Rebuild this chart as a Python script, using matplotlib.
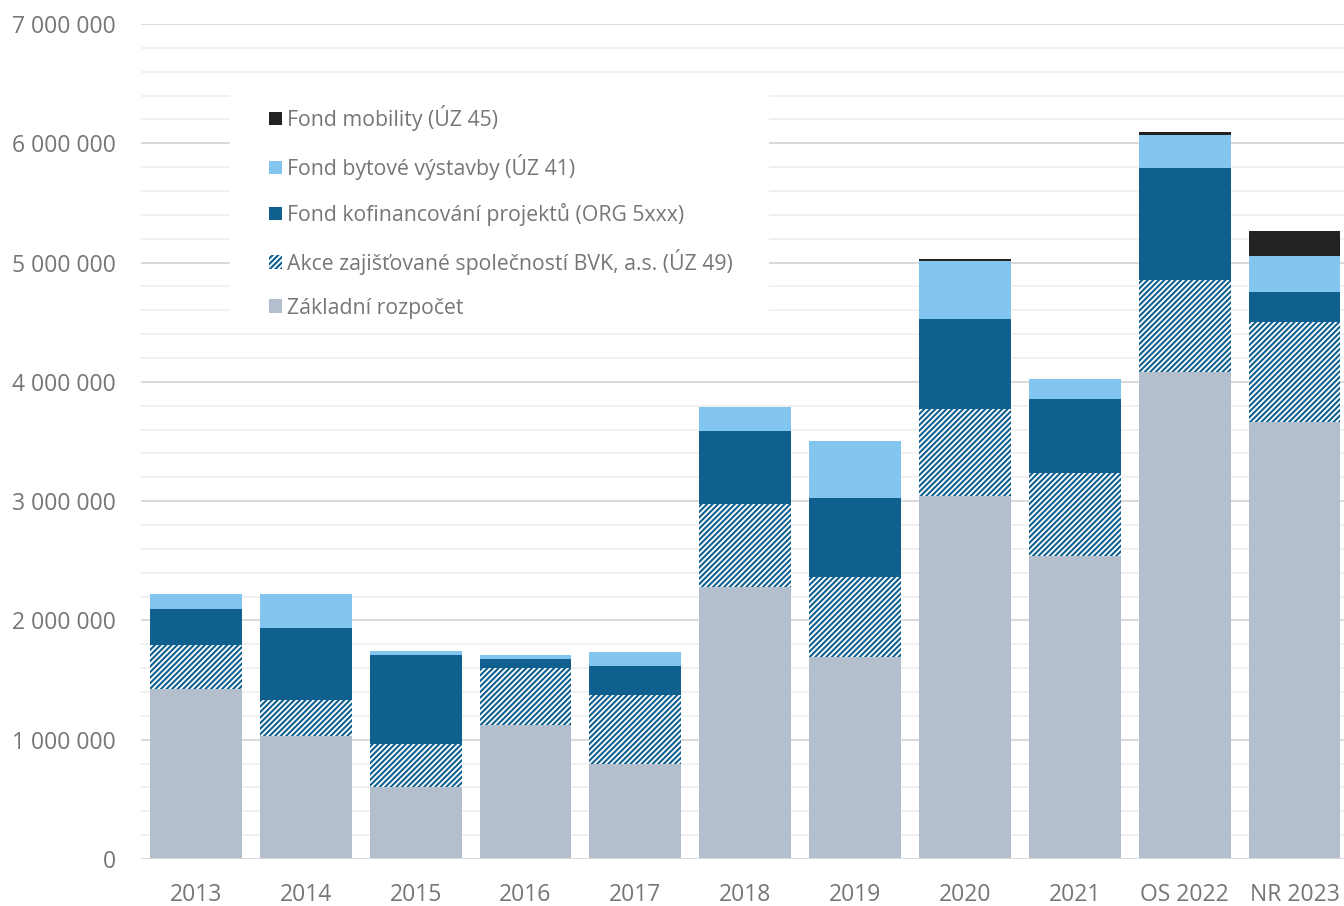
import matplotlib
matplotlib.use("Agg")
import matplotlib.pyplot as plt
import numpy as np
from matplotlib.patches import Rectangle
from matplotlib.ticker import FuncFormatter, MultipleLocator

# ---- data ----
categories = ["2013", "2014", "2015", "2016", "2017", "2018", "2019", "2020", "2021", "OS 2022", "NR 2023"]
zakladni = [1423000, 1031000, 601000, 1123000, 796000, 2278000, 1696000, 3043000, 2543000, 4080000, 3666000]
akce_bvk = [371000, 299000, 360000, 481000, 579000, 695000, 668000, 727000, 690000, 774000, 838000]
kofinancovani = [304000, 609000, 749000, 70000, 245000, 612000, 665000, 754000, 626000, 941000, 252000]
bytova = [123000, 280000, 36000, 34000, 113000, 201000, 473000, 492000, 165000, 277000, 302000]
mobilita = [0, 0, 0, 0, 0, 0, 5000, 14000, 0, 24000, 204000]

labels = ["Základní rozpočet",
          "Akce zajišťované společností BVK, a.s. (ÚZ 49)",
          "Fond kofinancování projektů (ORG 5xxx)",
          "Fond bytové výstavby (ÚZ 41)",
          "Fond mobility (ÚZ 45)"]

C_BASE = "#b3bfcc"
C_DARK = "#0f5f8f"
C_LIGHT = "#82c6f0"
C_BLACK = "#222222"
TXT = "#767676"

plt.rcParams["font.family"] = ["Open Sans", "DejaVu Sans"]
plt.rcParams["hatch.linewidth"] = 1.5

W, H = 1344, 906
fig = plt.figure(figsize=(W / 100, H / 100), dpi=100)
ax_left, ax_right = 141, 1349.5
ax_top, ax_bot = 24, 859
ax = fig.add_axes([ax_left / W, (H - ax_bot) / H, (ax_right - ax_left) / W, (ax_bot - ax_top) / H])

x = np.arange(len(categories))
width = 0.836

b0 = np.zeros(len(x))
h_base = ax.bar(x, zakladni, width, bottom=b0, color=C_BASE, linewidth=0, zorder=2)
b1 = b0 + np.array(zakladni)
h_bvk = ax.bar(x, akce_bvk, width, bottom=b1, facecolor="white", edgecolor=C_DARK,
               linewidth=0, hatch="//////", zorder=2)
b2 = b1 + np.array(akce_bvk)
h_kof = ax.bar(x, kofinancovani, width, bottom=b2, color=C_DARK, linewidth=0, zorder=2)
b3 = b2 + np.array(kofinancovani)
h_byt = ax.bar(x, bytova, width, bottom=b3, color=C_LIGHT, linewidth=0, zorder=2)
b4 = b3 + np.array(bytova)
h_mob = ax.bar(x, mobilita, width, bottom=b4, color=C_BLACK, linewidth=0, zorder=2)

ax.set_xlim(-0.5, len(x) - 0.5)
ax.set_ylim(0, 7000000)
ax.yaxis.set_major_locator(MultipleLocator(1000000))
ax.yaxis.set_minor_locator(MultipleLocator(200000))
ax.yaxis.set_major_formatter(FuncFormatter(lambda v, p: f"{int(round(v)):,}".replace(",", " ")))
ax.set_axisbelow(True)
ax.grid(axis="y", which="major", color="#d9d9d9", linewidth=1.4, zorder=0)
ax.grid(axis="y", which="minor", color="#f0f0f0", linewidth=1.3, zorder=0)
ax.axhline(0, color="#d9d9d9", linewidth=2, zorder=3)
for s in ax.spines.values():
    s.set_visible(False)
ax.set_xticks(x)
ax.set_xticklabels(categories)
ax.tick_params(axis="both", which="both", length=0, labelsize=16.5, labelcolor=TXT)
ax.tick_params(axis="y", pad=18)
ax.tick_params(axis="x", pad=17)

# white legend background box
ax.add_patch(Rectangle((230 / W, (H - 325) / H), (769 - 230) / W, (325 - 88) / H,
                       transform=fig.transFigure, facecolor="white", edgecolor="none", zorder=1))

handles = [h_mob, h_byt, h_kof, h_bvk, h_base]
leg_labels = labels[::-1]
leg = fig.legend(handles, leg_labels, loc="upper left",
                 bbox_to_anchor=(269 / W, (H - 105) / H), bbox_transform=fig.transFigure,
                 frameon=False, fontsize=15.3, labelcolor=TXT,
                 handlelength=0.62, handleheight=0.62, handletextpad=0.25,
                 labelspacing=1.08, borderpad=0, borderaxespad=0)

fig.savefig("out.png", dpi=100)
